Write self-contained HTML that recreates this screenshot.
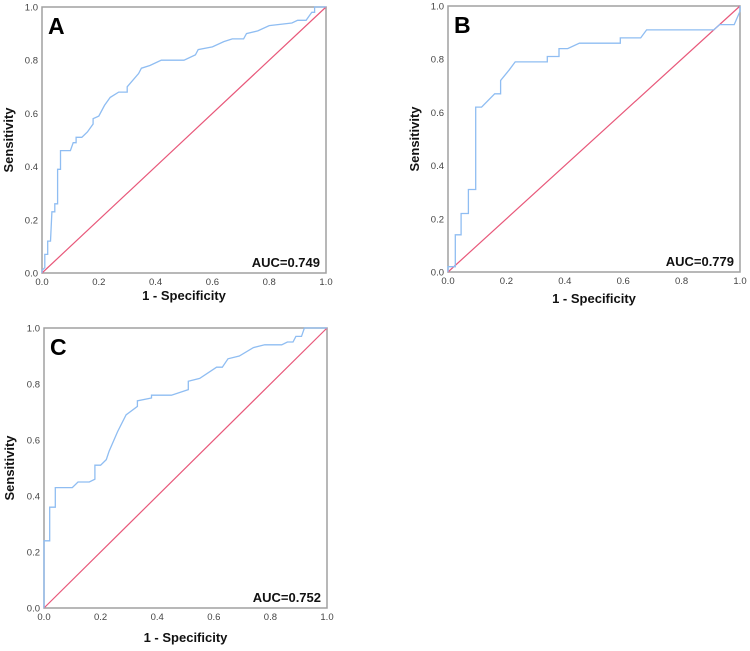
<!DOCTYPE html>
<html><head><meta charset="utf-8"><style>
html,body{margin:0;padding:0;background:#fff;}
svg{display:block;font-family:"Liberation Sans",Arial,sans-serif;}
</style></head><body>
<svg id="fig" width="750" height="651" viewBox="0 0 750 651"></svg>
<script>
const ticks = [0, 0.2, 0.4, 0.6, 0.8, 1.0];
const tickLabels = ["0.0","0.2","0.4","0.6","0.8","1.0"];
const panelNames = ["A","B","C"];
const aucLabels = ["AUC=0.749","AUC=0.779","AUC=0.752"];
const fprA = [0,0,0.01,0.01,0.02,0.02,0.03,0.035,0.045,0.045,0.055,0.055,0.065,0.065,0.1,0.11,0.12,0.12,0.14,0.16,0.18,0.18,0.2,0.22,0.24,0.27,0.3,0.3,0.34,0.35,0.38,0.42,0.5,0.54,0.55,0.6,0.64,0.67,0.71,0.72,0.76,0.8,0.88,0.9,0.93,0.95,0.96,0.96,1];
const tprA = [0,0.01,0.02,0.07,0.07,0.12,0.12,0.23,0.23,0.26,0.26,0.39,0.39,0.46,0.46,0.49,0.49,0.51,0.51,0.53,0.56,0.58,0.59,0.63,0.66,0.68,0.68,0.70,0.75,0.77,0.78,0.80,0.80,0.82,0.84,0.85,0.87,0.88,0.88,0.90,0.91,0.93,0.94,0.95,0.95,0.98,0.98,1.0,1];
const fprB = [0,0,0.025,0.025,0.045,0.045,0.07,0.07,0.095,0.095,0.115,0.16,0.18,0.18,0.21,0.23,0.34,0.34,0.38,0.38,0.41,0.45,0.59,0.59,0.66,0.68,0.91,0.93,0.98,1.0,1.0];
const tprB = [0,0.02,0.02,0.14,0.14,0.22,0.22,0.31,0.31,0.62,0.62,0.67,0.67,0.72,0.76,0.79,0.79,0.81,0.81,0.84,0.84,0.86,0.86,0.88,0.88,0.91,0.91,0.93,0.93,0.98,1.0];
const fprC = [0,0,0.02,0.02,0.04,0.04,0.1,0.12,0.16,0.18,0.18,0.2,0.22,0.23,0.26,0.29,0.33,0.33,0.38,0.38,0.45,0.51,0.51,0.55,0.61,0.63,0.65,0.69,0.74,0.78,0.84,0.86,0.88,0.89,0.91,0.92,1];
const tprC = [0,0.24,0.24,0.36,0.36,0.43,0.43,0.45,0.45,0.46,0.51,0.51,0.53,0.56,0.63,0.69,0.72,0.74,0.75,0.76,0.76,0.78,0.81,0.82,0.86,0.86,0.89,0.90,0.93,0.94,0.94,0.95,0.95,0.97,0.97,1.0,1];

const panels = [
 {L:42,R:326,T:7,B:273,fpr:fprA,tpr:tprA,ytx:13,xty:300},
 {L:448,R:740,T:6,B:272,fpr:fprB,tpr:tprB,ytx:419,xty:303},
 {L:44,R:327,T:328,B:608,fpr:fprC,tpr:tprC,ytx:14,xty:642}
];
const NS="http://www.w3.org/2000/svg";
const svg=document.getElementById('fig');
function mk(tag,attrs,parent){const e=document.createElementNS(NS,tag);for(const k in attrs)e.setAttribute(k,attrs[k]);(parent||svg).appendChild(e);return e;}
panels.forEach((p,i)=>{
  const g=mk('g',{});
  
  
  const sx=v=>p.L+v*(p.R-p.L), sy=v=>p.B-v*(p.B-p.T);
  const fr=mk('rect',{x:p.L,y:p.T,width:p.R-p.L,height:p.B-p.T,fill:'none',stroke:'#a0a0a0','stroke-width':1.5},g);
  
  
  ticks.forEach((t,k)=>{
    const yl=mk('text',{x:p.L-4,y:sy(t)+3.5,'text-anchor':'end','font-size':9.5,fill:'#444'},g);
    yl.textContent=tickLabels[k];
    
    
    const xl=mk('text',{x:sx(t),y:p.B+12,'text-anchor':'middle','font-size':9.5,fill:'#444'},g);
    xl.textContent=tickLabels[k];
    
    
  });
  const d=mk('line',{x1:sx(0),y1:sy(0),x2:sx(1),y2:sy(1),stroke:'#e8587a','stroke-width':1.2},g);
  
  
  const pts=p.fpr.map((f,k)=>sx(f).toFixed(1)+','+sy(p.tpr[k]).toFixed(1)).join(' ');
  const c=mk('polyline',{points:pts,fill:'none',stroke:'#8fbdf2','stroke-width':1.3},g);
  
  
  const lt=mk('text',{x:p.L+6,y:p.T+27,'font-size':23,'font-weight':'bold',fill:'#000'},g);
  lt.textContent=panelNames[i];
  
  
  const au=mk('text',{x:p.R-6,y:p.B-6,'text-anchor':'end','font-size':13,'font-weight':'bold',fill:'#111'},g);
  au.textContent=aucLabels[i];
  
  
  const xt=mk('text',{x:(p.L+p.R)/2,y:p.xty,'text-anchor':'middle','font-size':13,'font-weight':'bold',fill:'#111'},g);
  xt.textContent='1 - Specificity';
  
  
  const cy=(p.T+p.B)/2;
  const yt=mk('text',{x:p.ytx,y:cy,'text-anchor':'middle','font-size':13,'font-weight':'bold',fill:'#111',transform:'rotate(-90 '+p.ytx+' '+cy+')'},g);
  yt.textContent='Sensitivity';
  
  
});
</script>
</body></html>
